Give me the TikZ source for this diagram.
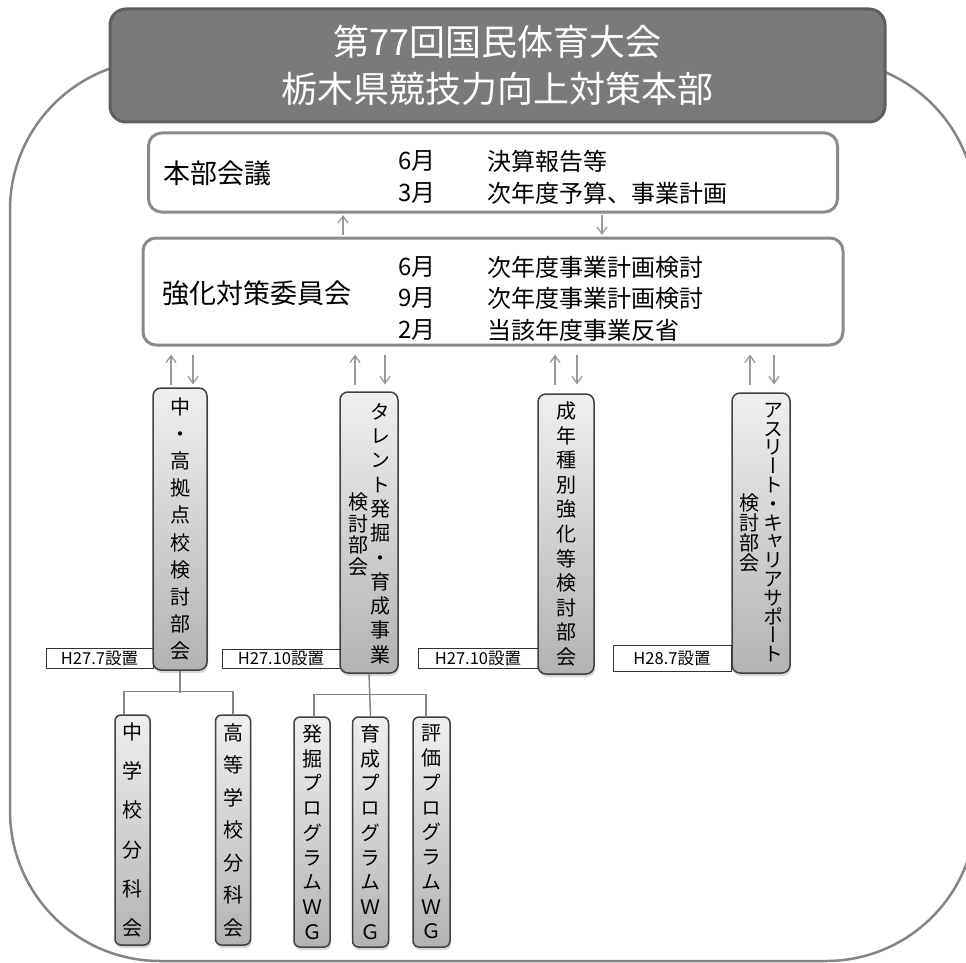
\documentclass[tikz,border=0pt]{standalone}
\usepackage{fontspec}
\setmainfont{Noto Sans CJK JP}
\newfontfamily\vjp[RawFeature=+vert]{Noto Sans CJK JP}
\usetikzlibrary{arrows.meta,positioning,calc,shadows}
\definecolor{hqfill}{HTML}{7A7A7A}
\definecolor{hqline}{HTML}{5E5E5E}
\definecolor{frameline}{HTML}{858585}
\definecolor{boxline}{HTML}{8A8A8A}
\definecolor{vline}{HTML}{404040}
\definecolor{arrowgray}{HTML}{999999}
\newcommand\vtext[1]{\vjp\fontsize{20}{#1}\selectfont}

\begin{document}
\begin{tikzpicture}[x=1pt,y=-1pt,
  arr/.style={draw=arrowgray,line width=1.3pt,shorten >=1.5pt,shorten <=1.5pt,-{Straight Barb[length=7pt,width=10pt]}},
  conn/.style={draw=frameline,line width=1.5pt}]
  \tikzstyle{hq}=[draw=hqline,line width=3pt,fill=hqfill,rounded corners=16pt,text=white,align=center,
    minimum width=775pt,minimum height=113pt,font=\fontsize{36}{47}\selectfont]
  \tikzstyle{meeting}=[draw=boxline,line width=3pt,fill=white,rounded corners=13pt]
  \tikzstyle{lead}=[anchor=west,inner sep=0pt,font=\fontsize{27}{27}\selectfont]
  \tikzstyle{rows}=[anchor=west,inner sep=0pt,align=left]
  \tikzstyle{vbox}=[draw=vline,line width=1.5pt,rounded corners=8pt,top color=white!94!black,
    bottom color=white!70!black,drop shadow={opacity=0.3,shadow xshift=1pt,shadow yshift=-3pt},
    inner sep=0pt,align=center]
  \tikzstyle{vcol}=[inner sep=0pt,align=center]
  \tikzstyle{setup}=[draw=black!80,fill=white,line width=0.8pt,inner sep=0pt,
    font=\fontsize{16.5}{16.5}\selectfont]

  \useasboundingbox (0,0) rectangle (966,963);
  \draw[draw=frameline,line width=2.5pt,rounded corners=150pt] (10,60) rectangle (976,961);

  \node[hq] (hq) at (497.5,65.5) {第77回国民体育大会\\栃木県競技力向上対策本部};

  \node[meeting,minimum width=689pt,minimum height=79pt] (hon) at (493,172.5) {};
  \node[lead] (hon-t) at (163,173) {本部会議};
  \node[rows,font=\fontsize{24}{32}\selectfont] (hon-m) at (398,177) {6月\\3月};
  \node[rows,font=\fontsize{24}{32}\selectfont] (hon-d) at (487,177) {決算報告等\\次年度予算、事業計画};

  \node[meeting,minimum width=700pt,minimum height=107pt] (kyo) at (493,291.5) {};
  \node[lead] (kyo-t) at (162,293) {強化対策委員会};
  \node[rows,font=\fontsize{24}{31.5}\selectfont] (kyo-m) at (398,298.5) {6月\\9月\\2月};
  \node[rows,font=\fontsize{24}{31.5}\selectfont] (kyo-d) at (487,298.5) {次年度事業計画検討\\次年度事業計画検討\\当該年度事業反省};

  \draw[arr] ([xshift=-150pt]kyo.north) -- ([xshift=-150pt]hon.south);
  \draw[arr] ([xshift=109pt]hon.south) -- ([xshift=109pt]kyo.north);

  \node[setup,minimum width=107pt,minimum height=20pt] (s1) at (99.5,658) {H27.7設置};
  \node[setup,minimum width=118pt,minimum height=19pt] (s2) at (281,658.5) {H27.10設置};
  \node[setup,minimum width=120pt,minimum height=20pt] (s3) at (478,658) {H27.10設置};
  \node[setup,minimum width=118pt,minimum height=26pt] (s4) at (672,658) {H28.7設置};

  \node[vbox,minimum width=54pt,minimum height=282pt,font={\vtext{27.2}}] (kou) at (180,529)
    {中\\・\\高\\拠\\点\\校\\検\\討\\部\\会};
  \node[vbox,minimum width=58pt,minimum height=281pt] (tal) at (369,532.5) {};
  \node[vcol,font={\vtext{24.3}}] (tal-r) at ([xshift=11pt,yshift=-1pt]tal.center)
    {タ\\レ\\ン\\ト\\発\\掘\\・\\育\\成\\事\\業};
  \node[vcol,font={\vtext{21.7}}] (tal-l) at ([xshift=-11pt,yshift=-2pt]tal.center) {検\\討\\部\\会};
  \node[vbox,minimum width=56pt,minimum height=280pt,font={\vtext{24.6}}] (sei) at (566,534)
    {成\\年\\種\\別\\強\\化\\等\\検\\討\\部\\会};
  \node[vbox,minimum width=58pt,minimum height=280pt] (ath) at (761,533) {};
  \node[vcol,font={\vtext{18.8}}] (ath-r) at ([xshift=12pt,yshift=0.5pt]ath.center)
    {ア\\ス\\リ\\ー\\ト\\・\\キ\\ャ\\リ\\ア\\サ\\ポ\\ー\\ト};
  \node[vcol,font={\vtext{20}}] (ath-l) at ([xshift=-12pt]ath.center) {検\\討\\部\\会};

  \coordinate (hi) at ([yshift=-8pt]kyo.south);
  \coordinate (lo) at ([yshift=-38pt]kyo.south);
  \foreach \b/\u/\d in {kou/-9/13,tal/-14/16,sei/-11/11,ath/-11/13}{
    \draw[arr,shorten <=0pt,shorten >=0pt] ($(\b.north |- lo)+(\u,0)$) -- ($(\b.north |- hi)+(\u,0)$);
    \draw[arr,shorten <=0pt,shorten >=0pt] ($(\b.north |- hi)+(\d,0)$) -- ($(\b.north |- lo)+(\d,0)$);
  }

  \node[vbox,rounded corners=6pt,minimum width=35pt,minimum height=230pt,font={\vtext{39.2}}] (chu) at (132.5,830)
    {中\\学\\校\\分\\科\\会};
  \node[vbox,rounded corners=6pt,minimum width=35pt,minimum height=230pt,font={\vtext{32.5}},right=64pt of chu] (kot)
    {高\\等\\学\\校\\分\\科\\会};
  \node[vbox,rounded corners=6pt,minimum width=36pt,minimum height=230pt,font={\vtext{24.75}}] (hak) at (312,832)
    {発\\掘\\プ\\ロ\\グ\\ラ\\ム\\Ｗ\\Ｇ};
  \node[vbox,rounded corners=6pt,minimum width=36pt,minimum height=230pt,font={\vtext{24.75}},right=21pt of hak] (iku)
    {育\\成\\プ\\ロ\\グ\\ラ\\ム\\Ｗ\\Ｇ};
  \node[vbox,rounded corners=6pt,minimum width=37pt,minimum height=230pt,font={\vtext{24.75}},right=23pt of iku] (hyo)
    {評\\価\\プ\\ロ\\グ\\ラ\\ム\\Ｗ\\Ｇ};

  \draw[conn] (kou.south) -- ++(0,22);
  \draw[conn] ([xshift=-8.5pt]chu.north) -- ++(0,-23) -| (kot.north);
  \draw[conn] (tal.south) -- (iku.north);
  \draw[conn] ([xshift=2pt]hak.north) -- ++(0,-22) -| ([xshift=-5.5pt]hyo.north);
\end{tikzpicture}
\end{document}
